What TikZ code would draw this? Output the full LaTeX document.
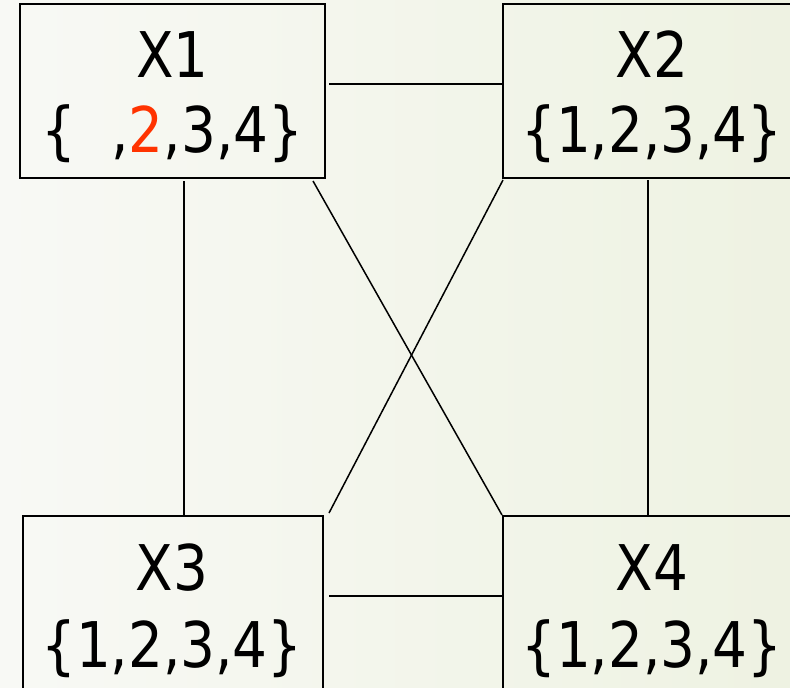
\documentclass[tikz,border=0pt]{standalone}
\usepackage{fontspec}
\setmainfont[FakeStretch=0.87]{DejaVu Sans}
\definecolor{hotred}{HTML}{FF3300}
\definecolor{bgleft}{HTML}{F8F9F5}
\definecolor{bgmid}{HTML}{F6F8F1}
\definecolor{bgright}{HTML}{EEF2E2}
\begin{document}
\begin{tikzpicture}[x=1pt,y=-1pt,
  varbox/.style={draw=black,line width=2pt,rectangle,minimum width=#1,minimum height=174pt,inner sep=0pt},
  lbl/.style={anchor=base,inner sep=0pt,font=\fontsize{63}{75}\selectfont},
  link/.style={draw=black,line width=1.5pt}]
\shade[left color=bgleft,middle color=bgmid,right color=bgright] (0,0) rectangle (790,688);
\useasboundingbox (0,0) rectangle (790,688);
% boxes
\node[varbox=305pt] (x1) at (172.5,91) {};
\node[varbox=298pt] (x2) at (652,91) {};
\node[varbox=300pt] (x3) at (173,603) {};
\node[varbox=298pt] (x4) at (652,603) {};
% labels
\node[lbl] (x1a) at (172.5,77) {X1};
\node[lbl] (x1b) at (172.5,152) {\{\phantom{1},\textcolor{hotred}{2},3,4\}};
\node[lbl] (x2a) at (652,77) {X2};
\node[lbl] (x2b) at (652,152) {\{1,2,3,4\}};
\node[lbl] (x3a) at (172,590) {X3};
\node[lbl] (x3b) at (172,667) {\{1,2,3,4\}};
\node[lbl] (x4a) at (652,590) {X4};
\node[lbl] (x4b) at (652,667) {\{1,2,3,4\}};
% connectors
\draw[link] ([shift={(3,-7)}]x1.east) coordinate (a1) -- (a1 -| x2.west);
\draw[link] ([shift={(5,-7)}]x3.east) coordinate (a2) -- (a2 -| x4.west);
\draw[link] ([shift={(11.5,2)}]x1.south) coordinate (a3) -- (a3 |- x3.north);
\draw[link] ([shift={(-4,1)}]x2.south) coordinate (a4) -- (a4 |- x4.north);
\draw[link] ([shift={(-13,2)}]x1.south east) -- (x4.north west);
\draw[link] ([shift={(1,1)}]x2.south west) -- ([shift={(5,-2)}]x3.north east);
\end{tikzpicture}
\end{document}
